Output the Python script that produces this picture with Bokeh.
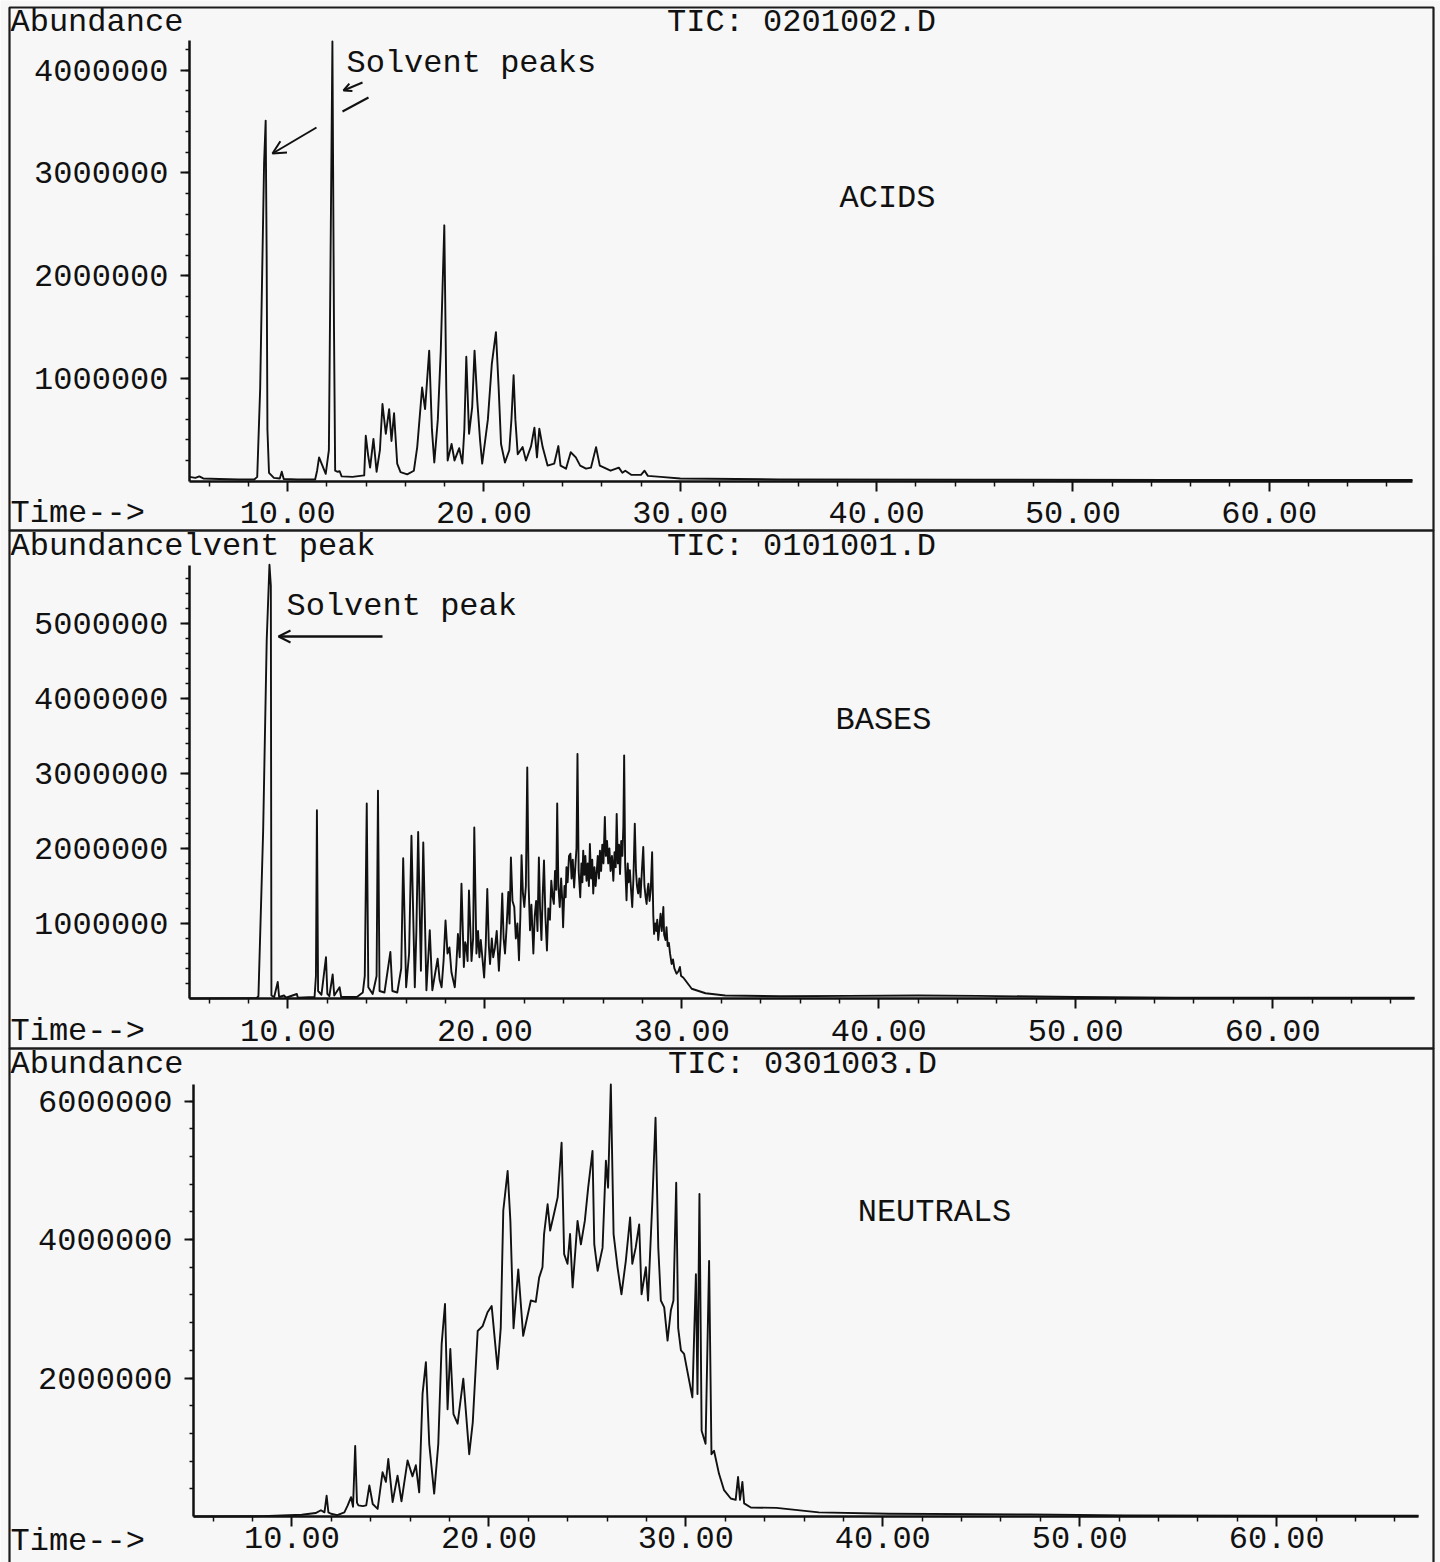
from bokeh.plotting import figure
from bokeh.models import (Range1d, FixedTicker, PrintfTickFormatter, Label, Arrow,
                          OpenHead, LinearAxis, BoxAnnotation)
from bokeh.embed import file_html
from bokeh.resources import INLINE

FONT = "Liberation Mono"
INK = "#111111"
PAPER = "#f7f7f7"
FS = "32px"
PAGE_W, PAGE_H = 1440, 1562

# ---------------------------------------------------------------------------
# Total ion chromatograms: (retention time [min], abundance [counts])
# ---------------------------------------------------------------------------
acids_trace = [
    (5.0, 40000), (5.3, 30000), (5.5, 45000), (5.7, 25000), (6.5, 20000), (7.5, 15000),
    (8.3, 15000), (8.45, 40000), (8.6, 900000), (8.7, 2000000), (8.8, 3100000),
    (8.88, 3510000), (8.93, 2200000), (8.97, 500000), (9.05, 80000), (9.3, 30000),
    (9.6, 25000), (9.7, 90000), (9.8, 20000), (10.5, 15000), (11.4, 15000),
    (11.5, 100000), (11.6, 230000), (11.75, 160000), (11.94, 70000), (12.1, 300000),
    (12.2, 2500000), (12.28, 4280000), (12.36, 1500000), (12.42, 100000), (12.55, 90000),
    (12.65, 95000), (12.75, 45000), (13.3, 40000), (13.9, 55000), (13.98, 440000),
    (14.1, 250000), (14.2, 130000), (14.37, 410000), (14.53, 90000), (14.7, 300000),
    (14.83, 750000), (15.0, 460000), (15.17, 700000), (15.29, 390000), (15.42, 660000),
    (15.58, 170000), (15.75, 86000), (16.09, 65000), (16.43, 100000), (16.6, 330000),
    (16.85, 910000), (17.0, 700000), (17.21, 1270000), (17.35, 500000), (17.47, 180000),
    (17.65, 600000), (17.8, 1270000), (17.98, 2490000), (18.08, 900000), (18.15, 200000),
    (18.35, 360000), (18.5, 200000), (18.74, 320000), (18.9, 170000), (19.0, 500000),
    (19.1, 1210000), (19.24, 460000), (19.4, 720000), (19.52, 1270000), (19.66, 780000),
    (19.8, 400000), (19.91, 170000), (20.2, 600000), (20.4, 1140000), (20.61, 1450000),
    (20.75, 900000), (20.87, 360000), (21.07, 180000), (21.29, 300000), (21.4, 600000),
    (21.51, 1030000), (21.6, 600000), (21.72, 260000), (21.97, 330000), (22.14, 200000),
    (22.4, 340000), (22.57, 520000), (22.7, 230000), (22.82, 510000), (22.99, 330000),
    (23.24, 150000), (23.58, 170000), (23.79, 340000), (23.9, 150000), (24.18, 120000),
    (24.42, 280000), (24.68, 230000), (24.9, 150000), (25.2, 120000), (25.45, 130000),
    (25.71, 330000), (25.9, 150000), (26.45, 100000), (26.87, 130000), (27.05, 80000),
    (27.2, 100000), (27.5, 60000), (28.0, 60000), (28.18, 100000), (28.35, 50000),
    (29.0, 40000), (30.0, 25000), (35.0, 15000), (45.0, 12000), (55.0, 10000), (67.3, 10000),
]

bases_trace = [
    (5.0, 0), (8.4, 5000), (8.5, 30000), (8.74, 2240000), (8.92, 4770000), (9.06, 5780000),
    (9.13, 5500000), (9.16, 40000), (9.3, 20000), (9.48, 220000), (9.55, 20000),
    (9.8, 40000), (9.9, 10000), (10.45, 60000), (10.5, 10000), (11.35, 20000),
    (11.42, 300000), (11.47, 2510000), (11.53, 100000), (11.7, 50000), (11.93, 550000),
    (12.0, 60000), (12.1, 30000), (12.27, 320000), (12.35, 40000), (12.62, 150000),
    (12.7, 20000), (13.5, 20000), (13.8, 80000), (13.9, 300000), (14.0, 2600000),
    (14.08, 150000), (14.3, 60000), (14.5, 300000), (14.57, 2770000), (14.65, 100000),
    (14.9, 80000), (15.2, 620000), (15.3, 100000), (15.55, 80000), (15.75, 400000),
    (15.85, 1870000), (16.0, 150000), (16.15, 600000), (16.27, 2170000), (16.44, 150000),
    (16.52, 900000), (16.61, 2220000), (16.75, 370000), (16.87, 2080000), (17.03, 110000),
    (17.2, 910000), (17.33, 110000), (17.45, 300000), (17.6, 530000), (17.7, 250000),
    (17.8, 150000), (17.9, 500000), (18.0, 1040000), (18.1, 600000), (18.2, 680000),
    (18.3, 350000), (18.47, 150000), (18.55, 450000), (18.63, 860000), (18.72, 550000),
    (18.81, 1530000), (18.93, 420000), (19.0, 750000), (19.05, 700000), (19.12, 500000),
    (19.19, 1440000), (19.32, 500000), (19.4, 800000), (19.46, 2280000), (19.57, 600000),
    (19.65, 900000), (19.72, 550000), (19.79, 780000), (19.96, 280000), (20.04, 700000),
    (20.12, 1460000), (20.2, 700000), (20.26, 460000), (20.35, 800000), (20.42, 550000),
    (20.51, 680000), (20.6, 900000), (20.71, 370000), (20.8, 800000), (20.88, 1400000),
    (20.95, 800000), (21.02, 600000), (21.1, 950000), (21.19, 1420000), (21.25, 1000000),
    (21.32, 1880000), (21.4, 1300000), (21.49, 1220000), (21.57, 800000), (21.65, 1000000),
    (21.73, 510000), (21.8, 1100000), (21.86, 1910000), (21.93, 1400000), (22.0, 1220000),
    (22.08, 1500000), (22.15, 3080000), (22.22, 1500000), (22.29, 910000), (22.36, 1250000),
    (22.46, 600000), (22.53, 1100000), (22.6, 1300000), (22.67, 900000), (22.74, 1880000),
    (22.8, 1200000), (22.87, 780000), (22.93, 1350000), (23.0, 1840000), (23.07, 1100000),
    (23.15, 640000), (23.22, 1200000), (23.3, 1050000), (23.37, 1570000), (23.44, 1350000),
    (23.5, 1260000), (23.56, 1700000), (23.62, 1450000), (23.67, 2600000), (23.73, 1500000),
    (23.8, 1220000), (23.87, 1600000), (23.93, 1300000), (23.97, 950000), (24.04, 1500000),
    (24.1, 1350000), (24.14, 1750000), (24.2, 1550000), (24.27, 1900000), (24.34, 1930000),
    (24.4, 1600000), (24.46, 1850000), (24.53, 1480000), (24.6, 1800000), (24.65, 2000000),
    (24.7, 3260000), (24.76, 1700000), (24.84, 1350000), (24.9, 1800000), (24.95, 1550000),
    (24.99, 1970000), (25.05, 1650000), (25.1, 1900000), (25.16, 1570000), (25.22, 1800000),
    (25.28, 1500000), (25.33, 2060000), (25.39, 1600000), (25.45, 1850000), (25.5, 1400000),
    (25.56, 1750000), (25.62, 1500000), (25.67, 1660000), (25.73, 1900000), (25.79, 1600000),
    (25.84, 1970000), (25.9, 1700000), (25.96, 2050000), (26.02, 1800000), (26.09, 2420000),
    (26.14, 1900000), (26.2, 2100000), (26.26, 1800000), (26.32, 2000000), (26.38, 1700000),
    (26.45, 1900000), (26.52, 1570000), (26.58, 1950000), (26.64, 1750000), (26.69, 2460000),
    (26.75, 1800000), (26.81, 2050000), (26.86, 1660000), (26.92, 2100000), (26.98, 1900000),
    (27.03, 2300000), (27.07, 3240000), (27.12, 1800000), (27.19, 1310000), (27.25, 1800000),
    (27.3, 1550000), (27.36, 1710000), (27.42, 1450000), (27.48, 1220000), (27.54, 1600000),
    (27.61, 2330000), (27.67, 1700000), (27.72, 1500000), (27.78, 1400000), (27.84, 1600000),
    (27.9, 1350000), (27.97, 1700000), (28.04, 2020000), (28.1, 1500000), (28.16, 1350000),
    (28.21, 1260000), (28.26, 1450000), (28.3, 1530000), (28.36, 1300000), (28.42, 1450000),
    (28.49, 1950000), (28.55, 1100000), (28.59, 860000), (28.65, 1000000), (28.7, 900000),
    (28.75, 1050000), (28.8, 780000), (28.86, 950000), (28.92, 1130000), (28.98, 900000),
    (29.06, 1220000), (29.1, 850000), (29.17, 780000), (29.22, 950000), (29.28, 700000),
    (29.34, 740000), (29.4, 600000), (29.48, 460000), (29.55, 520000), (29.62, 400000),
    (29.73, 330000), (29.82, 360000), (29.9, 420000), (29.96, 300000), (30.07, 280000),
    (30.5, 130000), (31.2, 70000), (32.2, 40000), (35.0, 30000), (38.5, 35000),
    (42.0, 40000), (45.0, 35000), (50.0, 20000), (55.0, 10000), (67.2, 10000),
]

neutrals_trace = [
    (5.0, 0), (8.5, 5000), (9.5, 15000), (10.5, 25000), (11.2, 50000), (11.47, 90000),
    (11.65, 60000), (11.76, 300000), (11.85, 60000), (11.98, 40000), (12.3, 20000),
    (12.66, 60000), (12.83, 160000), (13.0, 280000), (13.1, 140000), (13.21, 1020000),
    (13.3, 200000), (13.37, 160000), (13.6, 150000), (13.77, 160000), (13.93, 450000),
    (14.1, 180000), (14.35, 110000), (14.6, 640000), (14.77, 500000), (14.89, 830000),
    (15.11, 210000), (15.36, 590000), (15.56, 220000), (15.87, 810000), (16.12, 580000),
    (16.29, 740000), (16.46, 350000), (16.63, 1770000), (16.8, 2230000), (16.97, 1050000),
    (17.22, 330000), (17.43, 1050000), (17.6, 2490000), (17.77, 3070000), (17.9, 1550000),
    (18.04, 2420000), (18.2, 1480000), (18.41, 1340000), (18.7, 1990000), (19.0, 900000),
    (19.18, 1360000), (19.43, 2680000), (19.68, 2750000), (19.93, 2950000), (20.14, 3040000),
    (20.44, 2130000), (20.6, 2720000), (20.73, 4420000), (20.95, 4990000), (21.09, 4270000),
    (21.25, 2720000), (21.49, 3570000), (21.74, 2610000), (22.13, 3120000), (22.38, 3100000),
    (22.55, 3450000), (22.72, 3600000), (22.8, 4080000), (22.98, 4510000), (23.11, 4130000),
    (23.32, 4390000), (23.49, 4610000), (23.69, 5400000), (23.82, 3790000), (23.99, 3650000),
    (24.12, 4080000), (24.25, 3310000), (24.5, 4270000), (24.67, 3930000), (24.87, 4270000),
    (25.04, 4750000), (25.26, 5280000), (25.35, 3930000), (25.52, 3550000), (25.77, 3880000),
    (25.94, 5140000), (26.05, 4750000), (26.19, 6240000), (26.33, 4080000), (26.53, 3600000),
    (26.73, 3210000), (26.95, 3690000), (27.17, 4320000), (27.28, 3650000), (27.45, 3880000),
    (27.63, 4220000), (27.75, 3210000), (27.97, 3600000), (28.08, 3120000), (28.3, 4560000),
    (28.46, 5760000), (28.6, 3880000), (28.73, 3120000), (28.9, 3020000), (29.07, 2540000),
    (29.24, 2980000), (29.37, 3120000), (29.51, 4820000), (29.61, 2720000), (29.75, 2400000),
    (29.91, 2350000), (30.17, 1960000), (30.33, 1720000), (30.51, 3500000), (30.59, 1770000),
    (30.69, 4660000), (30.8, 1240000), (31.0, 1050000), (31.18, 3690000), (31.3, 900000),
    (31.43, 950000), (31.68, 620000), (31.94, 380000), (32.28, 260000), (32.53, 240000),
    (32.65, 570000), (32.75, 240000), (32.87, 500000), (32.96, 190000), (33.3, 130000),
    (34.6, 125000), (36.75, 60000), (40.3, 40000), (47.5, 30000), (52.3, 15000), (67.2, 10000),
]

# Axis ticks
time_ticks = [10, 20, 30, 40, 50, 60]
time_minor_ticks = [6, 8, 12, 14, 16, 18, 22, 24, 26, 28, 32, 34, 36, 38, 42, 44, 46, 48,
                    52, 54, 56, 58, 62, 64, 66]
acids_ticks = [1000000, 2000000, 3000000, 4000000]
bases_ticks = [1000000, 2000000, 3000000, 4000000, 5000000]
neutrals_ticks = [2000000, 4000000, 6000000]

# Header texts
file_names = ["TIC: 0201002.D", "TIC: 0101001.D", "TIC: 0301003.D"]
fraction_names = ["ACIDS", "BASES", "NEUTRALS"]

# One sheet; the default ranges are sheet pixels (y grows downwards)
p = figure(width=PAGE_W, height=PAGE_H, output_backend="svg", toolbar_location=None,
           title=None, x_axis_location=None, y_axis_location=None,
           x_range=Range1d(0, PAGE_W), y_range=Range1d(PAGE_H, 0),
           min_border=0, background_fill_color=PAPER, border_fill_color=PAPER,
           outline_line_color=None)
p.grid.visible = False


def span(lo_px, hi_px, axis_lo_px, axis_hi_px, v_lo, v_hi):
    """Data range covering [lo_px, hi_px] when v_lo..v_hi sits on axis_lo_px..axis_hi_px."""
    k = (v_hi - v_lo) / (axis_hi_px - axis_lo_px)
    return Range1d(v_lo - (axis_lo_px - lo_px) * k, v_hi + (hi_px - axis_hi_px) * k)


def text(x, y, s, align="left"):
    p.add_layout(Label(x=x, y=y, text=s, text_font=FONT, text_font_size=FS,
                       text_color=INK, text_align=align, text_baseline="middle"))


def arrow(x0, y0, x1, y1, head=None, width=2):
    p.add_layout(Arrow(x_start=x0, y_start=y0, x_end=x1, y_end=y1,
                       line_color=INK, line_width=width,
                       end=(OpenHead(size=head, line_width=2, line_color=INK) if head else None)))


def chromatogram(key, trace, box, axis_px, x_end, y_end, ticks, minor_step, x_standoff=11):
    """box: panel frame (left, top, right, bottom) in sheet px;
    axis_px: plotting area (left, right, top, bottom) in sheet px."""
    bl, bt, br, bb = box
    p.add_layout(BoxAnnotation(left=bl, right=br, top=bt, bottom=bb,
                               fill_color=None, fill_alpha=0,
                               line_color="#1c1c1c", line_alpha=1.0, line_width=2.2,
                               level="overlay"))
    left, right, top, bottom = axis_px
    xr, yr = "t_" + key, "a_" + key
    p.extra_x_ranges[xr] = span(0, PAGE_W, left, right, 5.0, x_end)
    p.extra_y_ranges[yr] = span(0, PAGE_H, PAGE_H - bottom, PAGE_H - top, 0, y_end)

    t = [pt[0] for pt in trace]
    a = [pt[1] for pt in trace]
    p.line(t, a, x_range_name=xr, y_range_name=yr,
           line_color=INK, line_width=1.9, line_join="round")

    xa = LinearAxis(x_range_name=xr, y_range_name=yr, fixed_location=0, bounds=(5.0, x_end),
                    ticker=FixedTicker(ticks=time_ticks, minor_ticks=time_minor_ticks),
                    formatter=PrintfTickFormatter(format="%.2f"))
    xa.major_tick_out, xa.major_tick_in = 10, 0
    xa.minor_tick_out, xa.minor_tick_in = 5, 0
    xa.major_label_standoff = x_standoff
    p.add_layout(xa, "below")

    ya = LinearAxis(x_range_name=xr, y_range_name=yr, fixed_location=5.0, bounds=(0, y_end),
                    ticker=FixedTicker(ticks=ticks,
                                       minor_ticks=list(range(minor_step, int(y_end), minor_step))),
                    formatter=PrintfTickFormatter(format="%d"))
    ya.major_tick_out, ya.major_tick_in = 9, 0
    ya.minor_tick_out, ya.minor_tick_in = 4, 0
    ya.major_label_standoff = 12
    p.add_layout(ya, "left")

    for ax in (xa, ya):
        ax.axis_line_color = INK
        ax.axis_line_width = 2.5
        ax.major_tick_line_color = INK
        ax.major_tick_line_width = 2
        ax.minor_tick_line_color = INK
        ax.minor_tick_line_width = 1.5
        ax.major_label_text_font = FONT
        ax.major_label_text_font_size = FS
        ax.major_label_text_color = INK


# ACIDS
chromatogram("acids", acids_trace, (9, 7, 1433, 530), (189, 1412, 40, 480.5),
             67.3, 4290000, acids_ticks, 200000)
text(10, 22, "Abundance")
text(801, 22, file_names[0], align="center")
text(10, 513, "Time-->")
text(887, 198, fraction_names[0], align="center")
text(346, 63, "Solvent peaks")
arrow(316, 127, 272, 153, head=13)
arrow(362, 82, 343, 90, head=8)
arrow(342, 111, 368, 97)

# BASES
chromatogram("bases", bases_trace, (9, 530, 1433, 1048), (189, 1414, 565, 998),
             67.2, 5770000, bases_ticks, 200000)
text(10, 546, "Abundance")
text(183, 546, "lvent peak")
text(801, 546, file_names[1], align="center")
text(10, 1031, "Time-->")
text(883, 720, fraction_names[1], align="center")
text(286, 606, "Solvent peak")
arrow(382, 636, 278, 636, head=12, width=2.5)

# NEUTRALS (the sheet ends just below this panel's time labels)
chromatogram("neutrals", neutrals_trace, (9, 1048, 1433, 1580), (193, 1418, 1084, 1516),
             67.2, 6240000, neutrals_ticks, 400000, x_standoff=0)
text(10, 1064, "Abundance")
text(802, 1064, file_names[2], align="center")
text(10, 1541, "Time-->")
text(934, 1212, fraction_names[2], align="center")

html = file_html(p, INLINE)
html = html.replace("<body>", '<body style="margin:0;background:#f7f7f7;overflow:hidden">', 1)
open("out.html", "w").write(html)
